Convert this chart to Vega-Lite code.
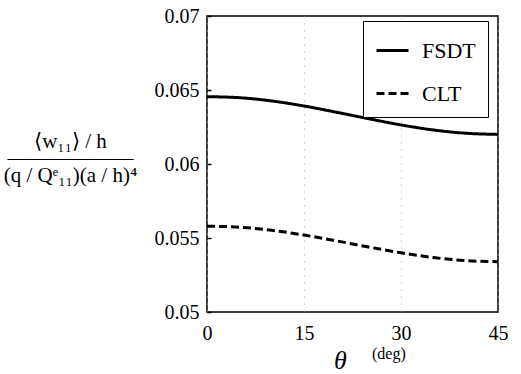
{
  "$schema": "https://vega.github.io/schema/vega-lite/v6.json",
  "width": 291,
  "height": 296,
  "autosize": "none",
  "padding": {"left": 207, "top": 16, "right": 23, "bottom": 62},
  "background": "white",
  "config": {
    "font": "Liberation Serif",
    "view": {"stroke": "black", "strokeWidth": 1.5},
    "legend": {
      "orient": "none", "legendX": 156, "legendY": 5,
      "padding": 12, "strokeColor": "black", "fillColor": "white",
      "rowPadding": 14, "labelFontSize": 22, "labelOffset": 12, "labelFont": "Liberation Serif",
      "labelColor": "black", "symbolType": "stroke", "symbolSize": 1024,
      "symbolStrokeWidth": 3, "title": null
    }
  },
  "title": {
    "text": "(deg)", "orient": "bottom", "anchor": "start", "frame": "group",
    "dx": 165, "offset": -27, "fontSize": 16, "fontWeight": "normal", "color": "black", "font": "Liberation Serif"
  },
  "data": {
    "values": [
      {"series": "FSDT", "theta": 0, "value": 0.06455},
      {"series": "FSDT", "theta": 5, "value": 0.06448},
      {"series": "FSDT", "theta": 10, "value": 0.06426},
      {"series": "FSDT", "theta": 15, "value": 0.06392},
      {"series": "FSDT", "theta": 20, "value": 0.0635},
      {"series": "FSDT", "theta": 25, "value": 0.06306},
      {"series": "FSDT", "theta": 30, "value": 0.06264},
      {"series": "FSDT", "theta": 35, "value": 0.0623},
      {"series": "FSDT", "theta": 40, "value": 0.06208},
      {"series": "FSDT", "theta": 45, "value": 0.062},
      {"series": "CLT", "theta": 0, "value": 0.0558},
      {"series": "CLT", "theta": 5, "value": 0.05573},
      {"series": "CLT", "theta": 10, "value": 0.05552},
      {"series": "CLT", "theta": 15, "value": 0.0552},
      {"series": "CLT", "theta": 20, "value": 0.05481},
      {"series": "CLT", "theta": 25, "value": 0.05439},
      {"series": "CLT", "theta": 30, "value": 0.054},
      {"series": "CLT", "theta": 35, "value": 0.05368},
      {"series": "CLT", "theta": 40, "value": 0.05347},
      {"series": "CLT", "theta": 45, "value": 0.0534}
    ]
  },
  "mark": {"type": "line", "strokeWidth": 3, "interpolate": "monotone"},
  "encoding": {
    "x": {
      "field": "theta", "type": "quantitative",
      "scale": {"domain": [0, 45], "nice": false},
      "axis": {
        "values": [0, 15, 30, 45], "ticks": false, "domain": false,
        "grid": true, "gridDash": [1, 6], "gridColor": "#aaa", "gridWidth": 1,
        "labelFont": "Liberation Serif", "titleFont": "Liberation Serif",
        "labelFontSize": 20, "labelColor": "black", "labelPadding": 11, "labelFlush": false,
        "title": "θ", "titleFontSize": 26, "titleFontStyle": "italic", "titleFontWeight": "normal",
        "titleColor": "black", "titleX": 133, "titleY": 48, "titleBaseline": "middle", "titleAlign": "center"
      }
    },
    "y": {
      "field": "value", "type": "quantitative",
      "scale": {"domain": [0.05, 0.07], "nice": false, "zero": false},
      "axis": {
        "values": [0.05, 0.055, 0.06, 0.065, 0.07], "labelExpr": "'' + datum.value",
        "grid": false, "domain": false, "tickSize": -4, "tickColor": "black", "tickWidth": 1.5,
        "labelFont": "Liberation Serif", "titleFont": "Liberation Serif",
        "labelFontSize": 20, "labelColor": "black", "labelPadding": 12,
        "title": ["⟨w₁₁⟩ / h", "——————", "(q / Qᵉ₁₁)(a / h)⁴"],
        "titleAngle": 0, "titleX": -137, "titleY": 125, "titleAlign": "center", "titleBaseline": "middle",
        "titleFontSize": 21, "titleLineHeight": 17, "titleFontWeight": "normal", "titleColor": "black"
      }
    },
    "color": {"field": "series", "type": "nominal", "scale": {"domain": ["FSDT", "CLT"], "range": ["black", "black"]}},
    "strokeDash": {"field": "series", "type": "nominal", "scale": {"domain": ["FSDT", "CLT"], "range": [[1, 0], [8, 4]]}}
  }
}
